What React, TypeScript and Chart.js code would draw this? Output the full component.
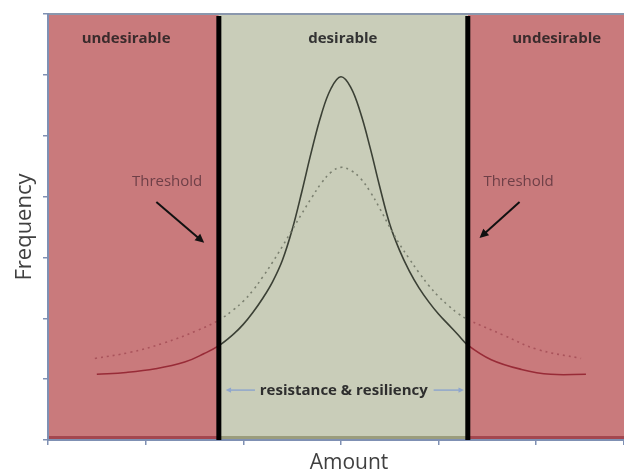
import React, { useEffect, useRef } from "react";
import { Chart, registerables } from "chart.js";

Chart.register(...registerables);

// ---- data (axis units) ----
const solidX = [0.5, 0.8, 1.1, 1.4, 1.6, 1.75, 1.9, 2.0, 2.1, 2.2, 2.3, 2.4, 2.5, 2.6, 2.7, 2.8, 2.9, 3.0, 3.1, 3.2, 3.3, 3.4, 3.5, 3.6, 3.7, 3.8, 3.9, 4.0, 4.1, 4.2, 4.3, 4.54, 4.85, 5.15, 5.51];
const solidY = [1.08, 1.11, 1.17, 1.28, 1.42, 1.55, 1.74, 1.9, 2.1, 2.33, 2.6, 2.95, 3.45, 4.08, 4.75, 5.35, 5.78, 5.97, 5.8, 5.38, 4.8, 4.15, 3.55, 3.12, 2.78, 2.5, 2.27, 2.07, 1.9, 1.73, 1.56, 1.32, 1.16, 1.08, 1.08];

const dottedX = [0.48, 0.84, 1.18, 1.53, 1.75, 1.9, 2.0, 2.1, 2.2, 2.3, 2.4, 2.5, 2.6, 2.7, 2.8, 2.9, 3.0, 3.1, 3.2, 3.3, 3.4, 3.5, 3.6, 3.7, 3.8, 3.9, 4.0, 4.1, 4.2, 4.3, 4.67, 5.01, 5.46];
const dottedY = [1.34, 1.44, 1.59, 1.8, 1.97, 2.14, 2.28, 2.46, 2.68, 2.92, 3.18, 3.45, 3.72, 3.98, 4.22, 4.4, 4.48, 4.43, 4.3, 4.08, 3.8, 3.5, 3.22, 2.98, 2.75, 2.54, 2.36, 2.21, 2.08, 1.98, 1.72, 1.49, 1.34];

const thresholds = [1.75, 4.3];
const xMin = 0;
const xMax = 5.9;
const yMin = 0;
const yMax = 7;

const zoneLabels = ["undesirable", "desirable", "undesirable"];
const thresholdLabel = "Threshold";
const rangeLabel = "resistance & resiliency";
const xTitle = "Amount";
const yTitle = "Frequency";

const RED = "#c97a7c";
const GREEN = "#c9cdb9";
const AXIS = "#7f90b3";

const inRed = (x: number) => x < thresholds[0] || x > thresholds[1];

function arrow(ctx: CanvasRenderingContext2D, x1: number, y1: number, x2: number, y2: number, color: string, lw: number, head: number) {
  const ang = Math.atan2(y2 - y1, x2 - x1);
  ctx.save();
  ctx.strokeStyle = color;
  ctx.fillStyle = color;
  ctx.lineWidth = lw;
  ctx.beginPath();
  ctx.moveTo(x1, y1);
  ctx.lineTo(x2 - Math.cos(ang) * head * 0.6, y2 - Math.sin(ang) * head * 0.6);
  ctx.stroke();
  ctx.beginPath();
  ctx.moveTo(x2, y2);
  ctx.lineTo(x2 - head * Math.cos(ang - 0.45), y2 - head * Math.sin(ang - 0.45));
  ctx.lineTo(x2 - head * Math.cos(ang + 0.45), y2 - head * Math.sin(ang + 0.45));
  ctx.closePath();
  ctx.fill();
  ctx.restore();
}

const zonesPlugin = {
  id: "zones",
  beforeDraw(chart: any) {
    const { ctx, chartArea: a, scales } = chart;
    const xs = scales.x;
    const t0 = xs.getPixelForValue(thresholds[0]);
    const t1 = xs.getPixelForValue(thresholds[1]);
    ctx.save();
    ctx.fillStyle = RED;
    ctx.fillRect(a.left, a.top, t0 - a.left, a.bottom - a.top);
    ctx.fillRect(t1, a.top, a.right - t1, a.bottom - a.top);
    ctx.fillStyle = GREEN;
    ctx.fillRect(t0, a.top, t1 - t0, a.bottom - a.top);
    // darker bottom edges
    ctx.fillStyle = "#a4464f";
    ctx.fillRect(a.left, a.bottom - 4, t0 - a.left, 3);
    ctx.fillRect(t1, a.bottom - 4, a.right - t1, 3);
    ctx.fillStyle = "#9a9c7c";
    ctx.fillRect(t0, a.bottom - 4, t1 - t0, 3);
    // top border
    ctx.strokeStyle = "#8a97ad";
    ctx.lineWidth = 2;
    ctx.beginPath();
    ctx.moveTo(a.left, a.top);
    ctx.lineTo(a.right, a.top);
    ctx.stroke();
    ctx.restore();
  },
  afterDatasetsDraw(chart: any) {
    const { ctx, chartArea: a, scales } = chart;
    const xs = scales.x;
    const ys = scales.y;
    const px = (v: number) => xs.getPixelForValue(v);
    const py = (v: number) => ys.getPixelForValue(v);
    ctx.save();
    // threshold bars
    ctx.strokeStyle = "#000";
    ctx.lineWidth = 5;
    thresholds.forEach((t) => {
      ctx.beginPath();
      ctx.moveTo(px(t), a.top + 2);
      ctx.lineTo(px(t), a.bottom);
      ctx.stroke();
    });
    // zone labels
    ctx.textAlign = "center";
    ctx.textBaseline = "alphabetic";
    ctx.font = "bold 15px 'Open Sans'";
    const zoneX = [0.8, 3.02, 5.21];
    zoneLabels.forEach((t, i) => {
      ctx.fillStyle = i === 1 ? "#333333" : "#3a2b2c";
      ctx.fillText(t, px(zoneX[i]), py(6.52));
    });
    // threshold labels
    ctx.font = "15px 'Open Sans'";
    ctx.fillStyle = "#6e3f47";
    ctx.fillText(thresholdLabel, px(1.22), py(4.18));
    ctx.fillText(thresholdLabel, px(4.82), py(4.18));
    arrow(ctx, px(1.11), py(3.91), px(1.6), py(3.24), "#111", 2, 10);
    arrow(ctx, px(4.83), py(3.91), px(4.42), py(3.32), "#111", 2, 10);
    // resistance label
    ctx.font = "bold 15px 'Open Sans'";
    ctx.fillStyle = "#2e2e2e";
    ctx.fillText(rangeLabel, px(3.03), py(0.74));
    arrow(ctx, px(2.12), py(0.82), px(1.82), py(0.82), "#8fa6cc", 1.5, 6);
    arrow(ctx, px(3.95), py(0.82), px(4.26), py(0.82), "#8fa6cc", 1.5, 6);
    // axis titles
    ctx.fillStyle = "#404040";
    ctx.font = "21px 'Open Sans'";
    ctx.fillText(xTitle, 349, 469);
    ctx.font = "22px 'Open Sans'";
    ctx.translate(31, (a.top + a.bottom) / 2);
    ctx.rotate(-Math.PI / 2);
    ctx.fillText(yTitle, 0, 0);
    ctx.restore();
  },
};

export default function App() {
  const ref = useRef<HTMLCanvasElement | null>(null);
  useEffect(() => {
    if (!ref.current) return;
    const solid = solidX.map((x, i) => ({ x, y: solidY[i] }));
    const dotted = dottedX.map((x, i) => ({ x, y: dottedY[i] }));
    const chart = new Chart(ref.current, {
      type: "line",
      data: {
        datasets: [
          {
            data: dotted,
            borderWidth: 1.6,
            borderDash: [2, 4],
            pointRadius: 0,
            tension: 0.4,
            segment: {
              borderColor: (c: any) => (inRed((c.p0.parsed.x + c.p1.parsed.x) / 2) ? "#a9535b" : "#7b8070"),
            },
          },
          {
            data: solid,
            borderWidth: 1.6,
            pointRadius: 0,
            tension: 0.4,
            segment: {
              borderColor: (c: any) => (inRed((c.p0.parsed.x + c.p1.parsed.x) / 2) ? "#982b37" : "#3b4035"),
            },
          },
        ],
      },
      options: {
        responsive: false,
        animation: false,
        devicePixelRatio: 1,
        layout: { padding: { top: 14, left: 0, right: 0, bottom: 0 } },
        plugins: { legend: { display: false }, tooltip: { enabled: false }, title: { display: false } },
        scales: {
          x: {
            type: "linear",
            min: xMin,
            max: xMax,
            afterFit: (s: any) => { s.height = 32; },
            ticks: { display: false, stepSize: 1 },
            grid: { drawOnChartArea: false, drawTicks: true, tickLength: 5, color: AXIS, lineWidth: 1.5 },
            border: { display: true, color: AXIS, width: 2 },
          },
          y: {
            type: "linear",
            min: yMin,
            max: yMax,
            afterFit: (s: any) => { s.width = 48; },
            ticks: { display: false, stepSize: 1 },
            grid: { drawOnChartArea: false, drawTicks: true, tickLength: 5, color: AXIS, lineWidth: 1.5 },
            border: { display: true, color: AXIS, width: 2 },
          },
        },
      },
      plugins: [zonesPlugin],
    } as any);
    return () => chart.destroy();
  }, []);
  return (
    <div style={{ position: "absolute", left: 0, top: 0, width: 624, height: 472 }}>
      <canvas ref={ref} width={624} height={472} />
    </div>
  );
}
